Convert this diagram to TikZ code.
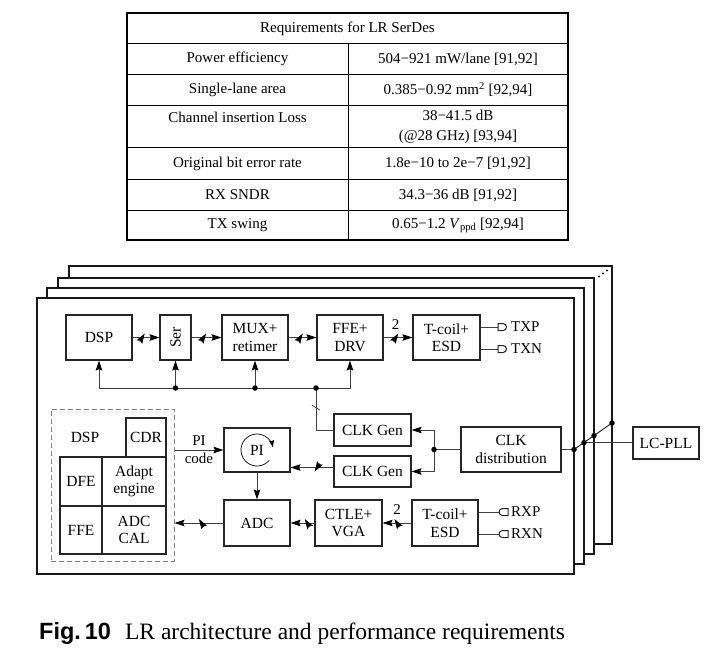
\documentclass[tikz,border=0pt]{standalone}
\usepackage{fontspec}
\setmainfont{Liberation Serif}
\newfontfamily\capsans{Liberation Sans}
\usetikzlibrary{arrows.meta,decorations.markings,calc}
\begin{document}
\begin{tikzpicture}[x=1pt,y=-1pt,
  txt/.style={font=\fontsize{15}{17}\selectfont, inner sep=0pt, align=center},
  blk/.style={draw=black!85, line width=1.1pt, fill=white, inner sep=0pt, align=center, font=\fontsize{15.5}{17.5}\selectfont},
  conn/.style={draw=black!75, line width=0.8pt},
  arr/.style={conn, -{Stealth[length=10pt,width=6.5pt,inset=1.5pt,color=black]}},
  slashA/.style={postaction={decorate,decoration={markings,mark=at position #1 with {\draw[black!80,line width=0.7pt] (-2.5pt,-4pt) -- (2.5pt,4pt);}}}},
  slashB/.style={postaction={decorate,decoration={markings,mark=at position #1 with {\draw[black!80,line width=0.7pt] (-2.5pt,4pt) -- (2.5pt,-4pt);}}}},
  dot/.style={circle, fill=black, inner sep=0pt, minimum size=5.5pt},
  frame/.style={draw=black!90, line width=1.3pt, fill=white},
  pin/.style={draw=black!85, line width=1pt, fill=white}
]
\useasboundingbox (0,0) rectangle (709,654);

% ---------- table ----------
\draw[line width=1.3pt] (127,13) rectangle (568,240);
\foreach \yy in {43,74,105,147,179,210} \draw[line width=0.6pt] (127,\yy) -- (568,\yy);
\draw[line width=0.6pt] (348,43) -- (348,240);
\node[txt] (th) at (347.5,28.5) {Requirements for LR SerDes};
\node[txt] (t1a) at (237.5,59) {Power efficiency};
\node[txt] (t1b) at (458,59) {504−921 mW/lane [91,92]};
\node[txt] (t2a) at (237.5,90) {Single-lane area};
\node[txt] (t2b) at (458,90) {0.385−0.92 mm\textsuperscript{2} [92,94]};
\node[txt] (t3a) at (237.5,117.5) {Channel insertion Loss};
\node[txt, font=\fontsize{15}{20}\selectfont] (t3b) at (458,127) {38−41.5 dB\\(@28 GHz) [93,94]};
\node[txt] (t4a) at (237.5,163.5) {Original bit error rate};
\node[txt] (t4b) at (458,163.5) {1.8e−10 to 2e−7 [91,92]};
\node[txt] (t5a) at (237.5,195) {RX SNDR};
\node[txt] (t5b) at (458,195) {34.3−36 dB [91,92]};
\node[txt] (t6a) at (237.5,225.5) {TX swing};
\node[txt] (t6b) at (458,225.5) {0.65−1.2 \textit{V}\textsubscript{ppd} [92,94]};

% ---------- stacked frames ----------
\draw[frame] (69,266) rectangle (612,544);
\draw[frame] (58,278) rectangle (594,554);
\draw[frame] (47,288) rectangle (584,564);
\draw[frame] (37,298) rectangle (574,574);
\foreach \px/\py in {599/276.5,603/273.5,607/270.5} \fill (\px,\py) circle[radius=1.2pt];

% ---------- TX row ----------
\node[blk, minimum width=66pt, minimum height=45pt] (dsp) at (99,337.5) {DSP};
\node[blk, minimum width=31pt, minimum height=45pt] (ser) at (175.5,337.5) {\rotatebox{90}{Ser}};
\node[blk, minimum width=66pt, minimum height=45pt] (mux) at (255,337.5) {MUX+\\retimer};
\node[blk, minimum width=66pt, minimum height=45pt] (ffe) at (350,337.5) {FFE+\\DRV};
\node[blk, minimum width=67pt, minimum height=45pt] (tctx) at (446.5,337.5) {T-coil+\\ESD};

\draw[arr, slashA=0.36] (dsp) -- (ser);
\draw[arr, slashA=0.4] (ser) -- (mux);
\draw[arr, slashA=0.42] (mux) -- (ffe);
\draw[arr, slashA=0.42] (ffe) -- (tctx) node[txt, pos=0.42, above=8pt] (two1) {2};

% TX pins
\coordinate (ptxp) at (498,327);
\coordinate (ptxn) at (498,349);
\draw[conn] (tctx.east |- ptxp) -- (ptxp);
\draw[conn] (tctx.east |- ptxn) -- (ptxn);
\draw[pin] (ptxp) ++(0,-3.5) -- ++(5,0) arc[start angle=90,end angle=-90,radius=3.5pt] -- ++(-5,0) -- cycle;
\draw[pin] (ptxn) ++(0,-3.5) -- ++(5,0) arc[start angle=90,end angle=-90,radius=3.5pt] -- ++(-5,0) -- cycle;
\node[txt, anchor=west] (ltxp) at (511,327) {TXP};
\node[txt, anchor=west] (ltxn) at (511,349) {TXN};

% clock bus
\coordinate (b1) at (175.5,388);
\coordinate (b2) at (255,388);
\coordinate (b3) at (316,388);
\draw[arr] (b1) -| (dsp.south);
\draw[arr] (b1) -- (ser.south);
\draw[arr] (b2) -- (mux.south);
\draw[conn] (b1) -- (b3);
\draw[arr] (b3) -| (ffe.south);

% ---------- clock section ----------
\node[blk, minimum width=77pt, minimum height=32pt] (clkg1) at (372.5,430) {CLK Gen};
\node[blk, minimum width=77pt, minimum height=31pt] (clkg2) at (372.5,471.5) {CLK Gen};
\node[blk, minimum width=100pt, minimum height=45pt] (clkd) at (511,449.5) {CLK\\distribution};
\node[blk, minimum width=66pt, minimum height=32pt] (lcpll) at (666,443) {LC-PLL};

\draw[conn, slashA=0.33] (b3) |- (clkg1.west);
\coordinate (cd) at (434,449.5);
\draw[conn] (clkd.west) -- (cd);
\draw[arr] (cd) |- (clkg1.east);
\draw[arr] (cd) |- (clkg2.east);

% bus to LC-PLL
\coordinate (f1) at (574,449.5);
\coordinate (f2) at (584,442.6);
\coordinate (f3) at (594,435.6);
\coordinate (f4) at (612,423);
\draw[conn] (clkd.east) -- (f1);
\draw[draw=black!90, line width=0.9pt] (f1) -- (f4);
\draw[conn] (f2) -- (f2 -| lcpll.west);

% ---------- RX section ----------
\node[blk, minimum width=66pt, minimum height=44pt] (pi) at (257,450) {};
\node[txt, font=\fontsize{15.5}{17}\selectfont] (pil) at (pi.center) {PI};
\draw[line width=0.7pt, -{Stealth[length=7pt,width=5pt,inset=1pt]}] ($(pi.center)+(-40:16pt)$) arc[start angle=-40, end angle=-350, radius=16pt];
\node[blk, minimum width=66pt, minimum height=46pt] (adc) at (257,523) {ADC};
\node[blk, minimum width=67pt, minimum height=46pt] (ctle) at (348.5,523) {CTLE+\\VGA};
\node[blk, minimum width=66pt, minimum height=46pt] (tcrx) at (445,523) {T-coil+\\ESD};

\draw[arr, slashA=0.38] ([yshift=4pt]clkg2.west) -- ([yshift=4pt]clkg2.west -| pi.east);
\draw[arr] (pi) -- (adc);
\draw[arr, slashB=0.5] (tcrx) -- (ctle) node[txt, pos=0.5, above=8pt] (two2) {2};
\draw[arr, slashB=0.3] (ctle) -- (adc);

% RX pins
\coordinate (prxp) at (499,512);
\coordinate (prxn) at (499,534);
\draw[conn] (tcrx.east |- prxp) -- (prxp);
\draw[conn] (tcrx.east |- prxn) -- (prxn);
\draw[pin] (prxp) ++(9,-3.5) -- ++(-5.5,0) arc[start angle=90,end angle=270,radius=3.5pt] -- ++(5.5,0) -- cycle;
\draw[pin] (prxn) ++(9,-3.5) -- ++(-5.5,0) arc[start angle=90,end angle=270,radius=3.5pt] -- ++(5.5,0) -- cycle;
\node[txt, anchor=west] (lrxp) at (511,512) {RXP};
\node[txt, anchor=west] (lrxn) at (511,534) {RXN};

% ---------- DSP (RX) ----------
\node[draw=black!50, dashed, dash pattern=on 5pt off 3pt, line width=1pt, minimum width=123pt, minimum height=152pt, inner sep=0pt] (dbox) at (112.5,485) {};
\node[txt, font=\fontsize{15.5}{17}\selectfont] (dspl) at (85,437) {DSP};
\node[blk, minimum width=40pt, minimum height=39pt] (cdr) at (146,437.5) {CDR};
\node[blk, minimum width=42pt, minimum height=49pt] (dfe) at (81,481.5) {DFE};
\node[blk, minimum width=64pt, minimum height=49pt] (adapt) at (134,481.5) {Adapt\\engine};
\node[blk, minimum width=42pt, minimum height=48pt] (ffer) at (81,530) {FFE};
\node[blk, minimum width=64pt, minimum height=48pt] (adccal) at (134,530) {ADC\\CAL};

\draw[arr] (pi.west -| dbox.east) -- (pi.west) node[txt, midway, above=4pt] (pic1) {PI} node[txt, midway, below=3pt] (pic2) {code};
\draw[arr, slashB=0.45] (adc.west) -- (adc.west -| dbox.east);

% dots
\foreach \c in {b1,b2,b3,cd,f1,f2,f3,f4} \node[dot] at (\c) {};

% ---------- caption ----------
\node[anchor=west, inner sep=0pt, font=\fontsize{23.5}{26}\selectfont] (cap) at (39,633) {{\capsans\bfseries Fig.\,10}\hspace{0.6em}LR architecture and performance requirements};
\end{tikzpicture}
\end{document}
